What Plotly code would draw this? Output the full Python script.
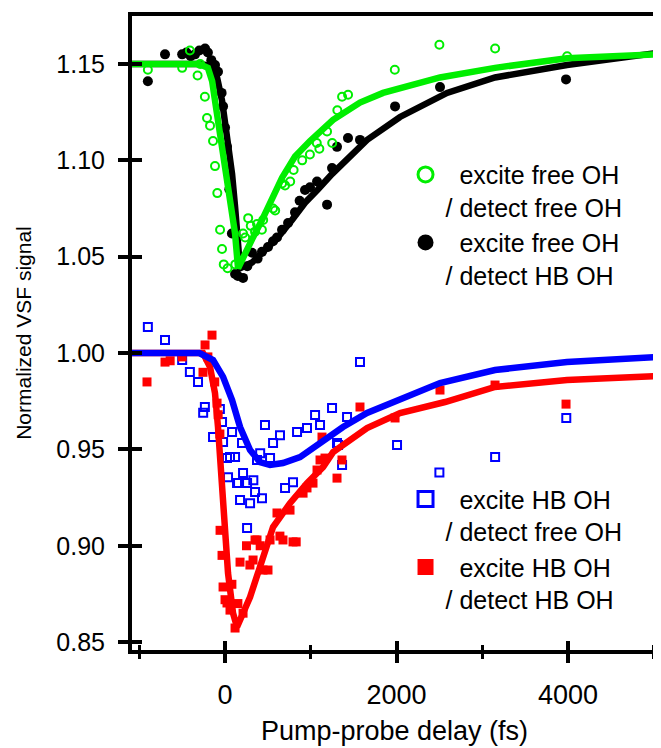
import plotly.graph_objects as go

# ---------------- data ----------------
# excite free OH / detect free OH  (green open circles)
green_x = [-900, -500, -410, -320, -290, -235, -210, -175, -140, -117, -90, -58, -35, -15, 30, 120,
           210, 235, 270, 300, 350, 373, 430, 445, 560, 585, 665, 700, 760, 800, 900, 990, 1070, 1100,
           1190, 1250, 1310, 1365, 1435, 1980, 2500, 3150, 3990]
green_y = [1.147, 1.148, 1.157, 1.144, 1.150, 1.133, 1.122, 1.118, 1.110, 1.097, 1.083, 1.064, 1.054,
           1.046, 1.044, 1.046, 1.062, 1.060, 1.070, 1.066, 1.063, 1.067, 1.064, 1.069, 1.075, 1.074,
           1.088, 1.087, 1.089, 1.095, 1.100, 1.103, 1.109, 1.106, 1.115, 1.109, 1.126, 1.133, 1.134,
           1.147, 1.160, 1.158, 1.154]

# excite free OH / detect HB OH  (black filled circles)
black_x = [-900, -700, -500, -450, -400, -350, -300, -233, -200, -160, -117, -82, -40, -23, 0, 23, 50,
           80, 117, 150, 210, 260, 315, 380, 431, 501, 560, 606, 665, 735, 816, 870, 933, 991, 1073,
           1190, 1248, 1306, 1434, 1574, 1983, 2507, 3977]
black_y = [1.141, 1.155, 1.155, 1.156, 1.154, 1.155, 1.157, 1.158, 1.156, 1.152, 1.1495, 1.146, 1.135,
           1.128, 1.117, 1.107, 1.085, 1.062, 1.041, 1.040, 1.039, 1.045, 1.052, 1.049, 1.0525, 1.055,
           1.058, 1.060, 1.064, 1.0675, 1.073, 1.079, 1.0846, 1.086, 1.089, 1.077, 1.096, 1.107,
           1.1116, 1.1106, 1.128, 1.138, 1.142]

# excite HB OH / detect free OH  (blue open squares)
blue_x = [-900, -700, -500, -410, -315, -235, -255, -140, -60, -35, -23, 23, 35, 58, 82, 117, 140, 152,
          175, 198, 210, 257, 257, 292, 330, 350, 373, 410, 431, 466, 525, 560, 641, 700, 793, 840, 956,
          1050, 1108, 1248, 1306, 1318, 1365, 1423, 1574, 2006, 2500, 3150, 3980]
blue_y = [1.0135, 1.0068, 0.9964, 0.9901, 0.985, 0.972, 0.969, 0.9564, 0.971, 0.9642, 0.9538, 0.9455,
          0.9356, 0.946, 0.959, 0.946, 0.9325, 0.9325, 0.9237, 0.9533, 0.9377, 0.9325, 0.9092, 0.9221,
          0.934, 0.9279, 0.9445, 0.948, 0.9247, 0.9626, 0.9455, 0.9533, 0.9574, 0.930, 0.933, 0.959,
          0.9611, 0.9678, 0.9626, 0.9715, 0.9533, 0.9523, 0.9419, 0.9668, 0.9953, 0.9523, 0.938,
          0.946, 0.9663]

# excite HB OH / detect HB OH  (red filled squares)
red_x = [-910, -700, -640, -500, -257, -233, -200, -152, -120, -93, -80, -60, -58, -35, -23, 0, 23, 58,
         80, 117, 150, 175, 210, 250, 290, 327, 350, 373, 410, 443, 501, 525, 606, 640, 676, 758, 793,
         830, 910, 956, 1026, 1073, 1108, 1131, 1166, 1306, 1364, 1574, 1983, 2507, 3149, 3977]
red_y = [0.985, 0.9953, 0.996, 0.998, 0.990, 1.0042, 0.998, 1.0093, 0.985, 0.974, 0.968, 0.958, 0.908,
         0.895, 0.8786, 0.872, 0.8703, 0.8666, 0.880, 0.8573, 0.870, 0.8915, 0.865, 0.900, 0.890,
         0.8926, 0.903, 0.903, 0.900, 0.8874, 0.8874, 0.903, 0.917, 0.905, 0.903, 0.9185, 0.902,
         0.902, 0.9273, 0.930, 0.9325, 0.9393, 0.9445, 0.9564, 0.9455, 0.9351, 0.9445, 0.972,
         0.9663, 0.9808, 0.9834, 0.9735]

# fitted curves
green_fit_x = [-1085, -300, -200, -150, -117, -58, 0, 58, 117, 152, 220, 315, 431, 548, 665, 816, 991,
               1260, 1574, 1843, 2040, 2507, 3149, 3988, 5038]
green_fit_y = [1.150, 1.150, 1.148, 1.141, 1.131, 1.114, 1.0965, 1.079, 1.062, 1.044, 1.051, 1.059,
               1.069, 1.081, 1.091, 1.102, 1.110, 1.121, 1.130, 1.135, 1.1375, 1.143, 1.148, 1.153, 1.155]

black_fit_x = [-1085, -300, -150, -93, -35, 23, 82, 117, 175, 315, 466, 618, 781, 933, 1085, 1250, 1656,
               2041, 2589, 3149, 3988, 5038]
black_fit_y = [1.150, 1.150, 1.149, 1.143, 1.131, 1.114, 1.093, 1.076, 1.044, 1.047, 1.0535, 1.060,
               1.069, 1.078, 1.085, 1.093, 1.1106, 1.1225, 1.135, 1.143, 1.1495, 1.1557]

blue_fit_x = [-1085, -300, -140, -23, 82, 175, 292, 408, 525, 676, 875, 1108, 1376, 1656, 2041, 2507,
              3149, 3988, 5038]
blue_fit_y = [1.000, 1.000, 0.9964, 0.9876, 0.9756, 0.9616, 0.9497, 0.9434, 0.9419, 0.9429, 0.946,
              0.9533, 0.9616, 0.9689, 0.9756, 0.9844, 0.9912, 0.9953, 0.998]

red_fit_x = [-1085, -300, -257, -175, -117, -82, -47, -23, 35, 93, 140, 292, 431, 560, 758, 956, 1143,
             1260, 1656, 2041, 2566, 3149, 3988, 5038]
red_fit_y = [1.0, 1.0, 1.0, 0.9927, 0.9792, 0.9616, 0.9393, 0.9201, 0.8858, 0.8651, 0.8578, 0.8734,
             0.8926, 0.9097, 0.9221, 0.9325, 0.9408, 0.9486, 0.9611, 0.9689, 0.9746, 0.9824, 0.986,
             0.9881]

legend_names = [
    "\u00a0\u00a0excite free OH<br>/ detect free OH",
    "\u00a0\u00a0excite free OH<br>/ detect HB OH",
    "\u00a0\u00a0excite HB OH<br>/ detect free OH",
    "\u00a0\u00a0excite HB OH<br>/ detect HB OH",
]

x_title = "Pump-probe delay (fs)"
y_title = "Normalized VSF signal"
x_range = [-1085, 5038]
y_range = [0.8459, 1.1749]
y_ticks = [0.85, 0.90, 0.95, 1.00, 1.05, 1.10, 1.15]
y_ticktext = ["0.85", "0.90", "0.95", "1.00", "1.05", "1.10", "1.15"]

GREEN = "#00ee00"
BLACK = "#000000"
BLUE = "#0000ff"
RED = "#ff0000"
FONT = "Liberation Sans, Arial, Helvetica, sans-serif"

fig = go.Figure()

# lower pair
fig.add_trace(go.Scatter(x=blue_x, y=blue_y, mode="markers", showlegend=False,
                         marker=dict(symbol="square-open", size=8, color=BLUE, line=dict(width=2, color=BLUE))))
fig.add_trace(go.Scatter(x=red_x, y=red_y, mode="markers", showlegend=False,
                         marker=dict(symbol="square", size=9, color=RED, line=dict(width=0))))
fig.add_trace(go.Scatter(x=red_fit_x, y=red_fit_y, mode="lines", showlegend=False,
                         line=dict(color=RED, width=6.5)))
fig.add_trace(go.Scatter(x=blue_fit_x, y=blue_fit_y, mode="lines", showlegend=False,
                         line=dict(color=BLUE, width=6.5)))

# upper pair
fig.add_trace(go.Scatter(x=black_x, y=black_y, mode="markers", showlegend=False,
                         marker=dict(symbol="circle", size=10, color=BLACK, line=dict(width=0))))
fig.add_trace(go.Scatter(x=black_fit_x, y=black_fit_y, mode="lines", showlegend=False,
                         line=dict(color=BLACK, width=6.5)))
fig.add_trace(go.Scatter(x=green_x, y=green_y, mode="markers", showlegend=False,
                         marker=dict(symbol="circle-open", size=8, color=GREEN, line=dict(width=2, color=GREEN))))
fig.add_trace(go.Scatter(x=green_fit_x, y=green_fit_y, mode="lines", showlegend=False,
                         line=dict(color=GREEN, width=6.5)))

# legend keys
fig.add_trace(go.Scatter(x=[None], y=[None], mode="markers", name=legend_names[0], legend="legend",
                         marker=dict(symbol="circle-open", size=15, color=GREEN, line=dict(width=3, color=GREEN))))
fig.add_trace(go.Scatter(x=[None], y=[None], mode="markers", name=legend_names[1], legend="legend",
                         marker=dict(symbol="circle", size=16, color=BLACK)))
fig.add_trace(go.Scatter(x=[None], y=[None], mode="markers", name=legend_names[2], legend="legend2",
                         marker=dict(symbol="square-open", size=15, color=BLUE, line=dict(width=3, color=BLUE))))
fig.add_trace(go.Scatter(x=[None], y=[None], mode="markers", name=legend_names[3], legend="legend2",
                         marker=dict(symbol="square", size=16, color=RED)))

# empty trace to carry the overlay axes (inner halves of the crossing ticks)
fig.add_trace(go.Scatter(x=[], y=[], xaxis="x2", yaxis="y2", showlegend=False, hoverinfo="skip"))

legend_common = dict(xanchor="left", yanchor="top", bgcolor="rgba(0,0,0,0)", borderwidth=0,
                     valign="top", font=dict(family=FONT, size=25, color="black"),
                     itemwidth=30, tracegroupgap=0, itemclick=False)

# note: the page body adds an 8px offset, so margins are shifted accordingly
fig.update_layout(
    width=661, height=748,
    margin=dict(l=124, r=12, t=8, b=106, autoexpand=False),
    paper_bgcolor="white", plot_bgcolor="white",
    font=dict(family=FONT, color="black"),
    legend=dict(x=0.521, y=0.786, **legend_common),
    legend2=dict(x=0.521, y=0.274, **legend_common),
    xaxis=dict(range=x_range, showgrid=False, zeroline=False,
               showline=True, linewidth=4, linecolor="black", mirror=True,
               tick0=0, dtick=2000, ticks="outside", ticklen=9, tickwidth=4, tickcolor="black",
               minor=dict(tick0=0, dtick=1000, ticks="outside", ticklen=5, tickwidth=3, tickcolor="black"),
               tickfont=dict(family=FONT, size=27), ticklabelstandoff=9,
               title=dict(text=x_title, font=dict(family=FONT, size=27), standoff=13)),
    yaxis=dict(range=y_range, showgrid=False, zeroline=False,
               showline=True, linewidth=4, linecolor="black", mirror=True,
               tickvals=y_ticks, ticktext=y_ticktext,
               ticks="outside", ticklen=10, tickwidth=4, tickcolor="black",
               tickfont=dict(family=FONT, size=25), ticklabelstandoff=8,
               title=dict(text=y_title, font=dict(family=FONT, size=21), standoff=20)),
    xaxis2=dict(range=x_range, overlaying="x", anchor="y", side="bottom", showgrid=False, zeroline=False,
                showline=False, showticklabels=False,
                tick0=0, dtick=2000, ticks="inside", ticklen=9, tickwidth=4, tickcolor="black",
                minor=dict(tick0=0, dtick=1000, ticks="inside", ticklen=5, tickwidth=3, tickcolor="black")),
    yaxis2=dict(range=y_range, overlaying="y", anchor="x", side="left", showgrid=False, zeroline=False,
                showline=False, showticklabels=False,
                tickvals=y_ticks, ticks="inside", ticklen=10, tickwidth=4, tickcolor="black"),
)

fig.write_html("out.html")
